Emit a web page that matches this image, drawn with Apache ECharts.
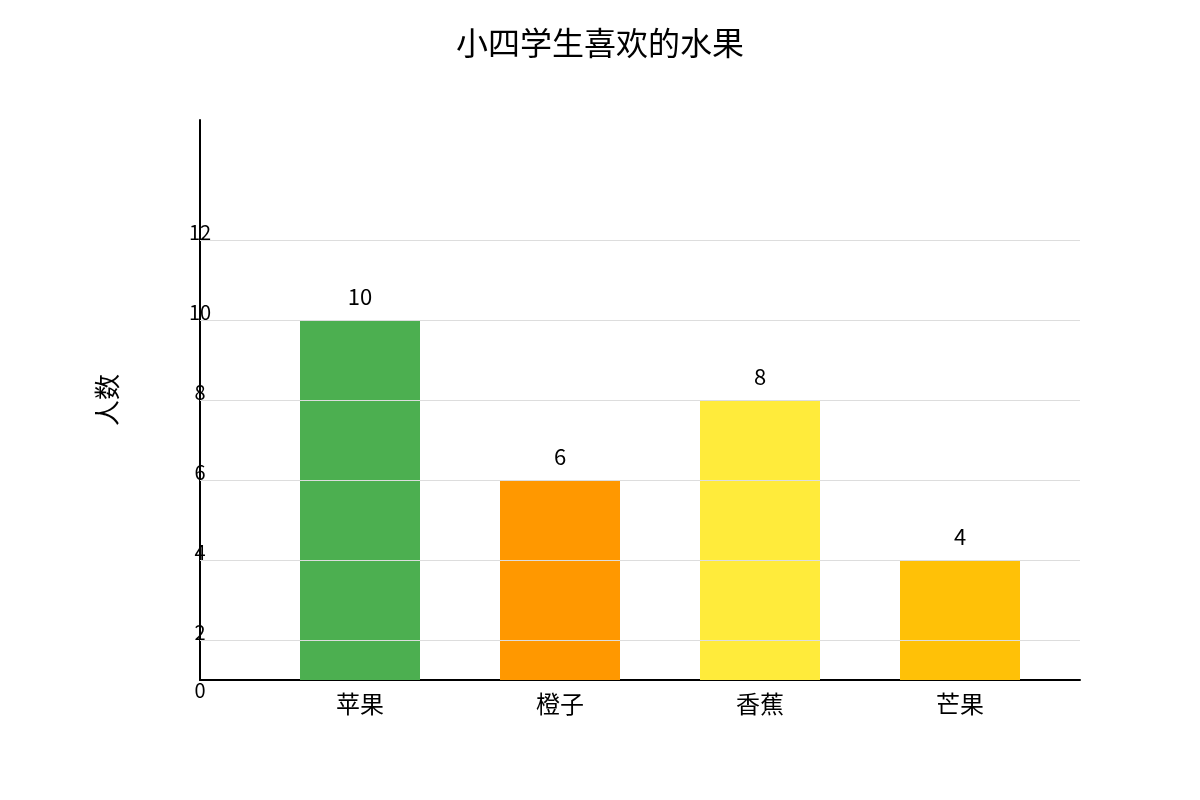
<!DOCTYPE html>
<html lang="zh">
<head>
    <meta charset="UTF-8">
    <title>小四学生喜欢的水果</title>
    <script src="https://cdn.jsdelivr.net/npm/echarts@6/dist/echarts.min.js"></script>
    <style>
        html,body{margin:0;padding:0;background:#fff;}
        #main{width:1200px;height:800px;}
    </style>
</head>
<body>
<div id="main"></div>
<script type="text/javascript">
    var fruits = ['苹果', '橙子', '香蕉', '芒果'];
    var counts = [10, 6, 8, 4];
    var colors = ['#4caf50', '#ff9800', '#ffeb3b', '#ffc107'];
    var gridTicks = [2, 4, 6, 8, 10, 12];
    var tickLabels = {1: '0', 2: '2', 4: '4', 6: '6', 8: '8', 10: '10', 12: '12'};

    var font = '"Noto Sans CJK SC", "Noto Sans", sans-serif';
    var myChart = echarts.init(document.getElementById('main'));

    var option = {
        animation: false,
        textStyle: {fontFamily: font},
        title: {
            text: '小四学生喜欢的水果',
            left: 'center',
            top: 22,
            textStyle: {fontSize: 32, fontWeight: 'normal', color: '#000', fontFamily: font}
        },
        grid: [
            {left: 200, right: 120, top: 120, bottom: 120},
            {left: 260, right: 140, top: 120, bottom: 120}
        ],
        xAxis: [
            {
                gridIndex: 0, type: 'value', min: 0, max: 1,
                axisLine: {show: true, lineStyle: {color: '#000', width: 2}},
                axisTick: {show: false}, axisLabel: {show: false}, splitLine: {show: false}
            },
            {
                gridIndex: 1, type: 'category', data: fruits,
                axisLine: {show: false}, axisTick: {show: false},
                axisLabel: {fontSize: 24, color: '#000', margin: 12, fontFamily: font}
            }
        ],
        yAxis: [
            {
                gridIndex: 0, type: 'value', min: 1, max: 15, interval: 1,
                name: '人数', nameLocation: 'middle', nameGap: 80, nameRotate: 90,
                nameTextStyle: {fontSize: 26, color: '#000', fontFamily: font},
                axisLine: {show: true, lineStyle: {color: '#000', width: 2}},
                axisTick: {show: false}, splitLine: {show: false},
                axisLabel: {
                    margin: 0, align: 'center', verticalAlign: 'middle',
                    formatter: function (v) {
                        if (v === 1) return '{z|0}';
                        return tickLabels[v] ? '{n|' + tickLabels[v] + '}' : '';
                    },
                    rich: {
                        n: {fontSize: 20, color: '#000', padding: [0, 0, 16, 0], fontFamily: font},
                        z: {fontSize: 20, color: '#000', padding: [20, 0, 0, 0], fontFamily: font}
                    }
                }
            },
            {
                gridIndex: 1, type: 'value', min: 1, max: 15, show: false
            }
        ],
        series: [
            {
                type: 'line', xAxisIndex: 0, yAxisIndex: 0, data: [],
                silent: true, z: 1,
                markLine: {
                    silent: true, symbol: 'none', label: {show: false},
                    lineStyle: {color: '#dddddd', width: 1, type: 'solid'},
                    data: gridTicks.map(function (t) { return {yAxis: t}; })
                }
            },
            {
                type: 'bar', xAxisIndex: 1, yAxisIndex: 1, barWidth: 120, z: 3,
                data: counts.map(function (c, i) {
                    return {value: c, itemStyle: {color: colors[i]}};
                }),
                label: {show: true, position: 'top', distance: 12, fontSize: 22, color: '#000', fontFamily: font}
            }
        ]
    };

    myChart.setOption(option);
</script>
</body>
</html>
